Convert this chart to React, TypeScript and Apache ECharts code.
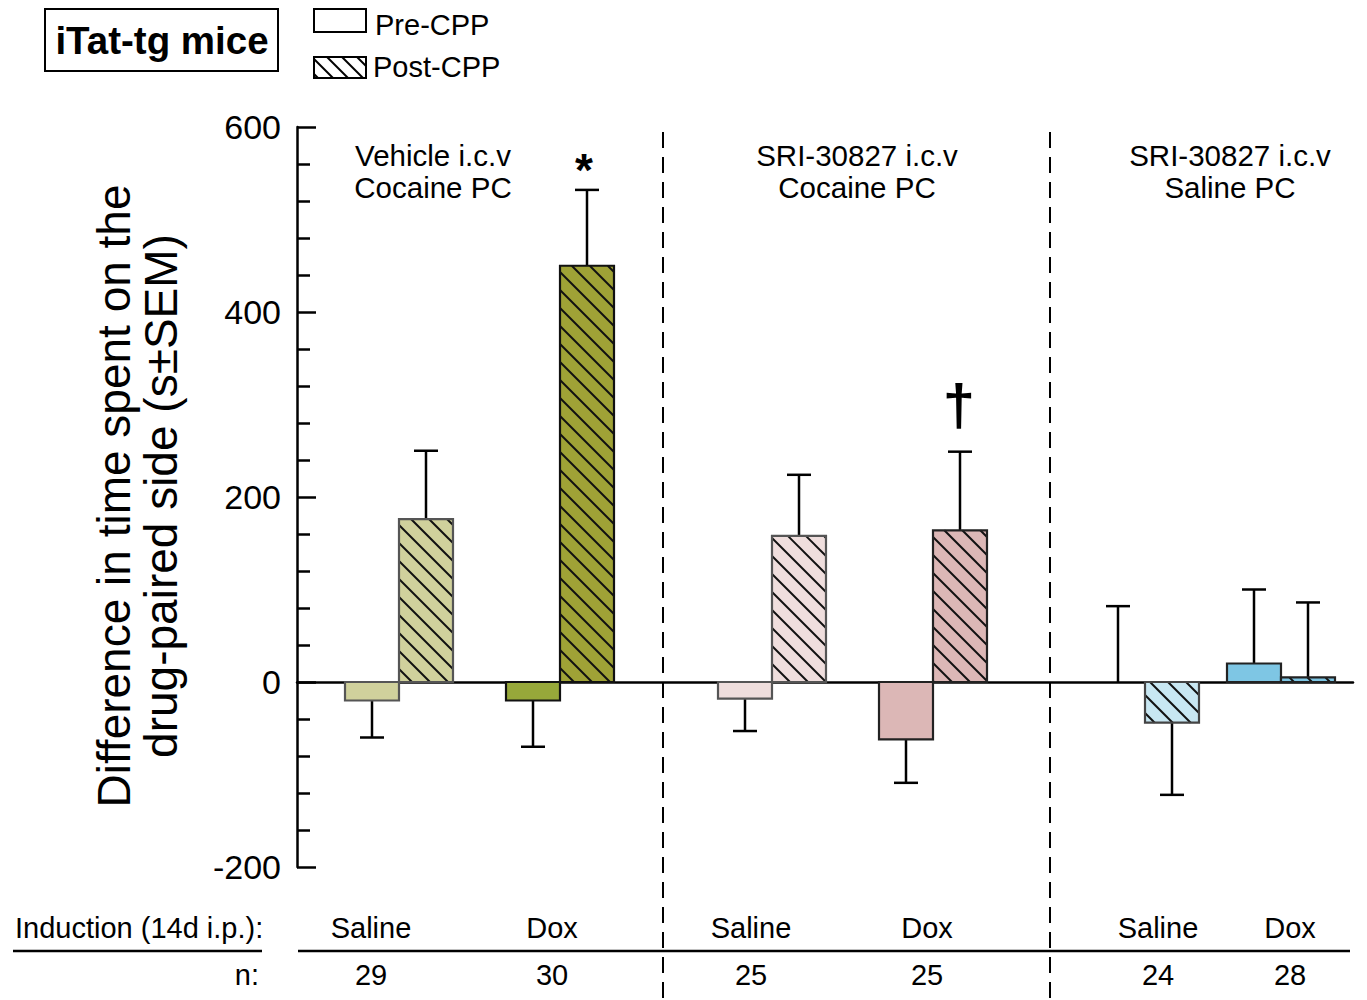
import React, { useEffect, useRef } from "react";
import * as echarts from "echarts";

// ---------- data ----------
const groupTitles = ["Vehicle i.c.v\nCocaine PC", "SRI-30827 i.c.v\nCocaine PC", "SRI-30827 i.c.v\nSaline PC"];
const induction = ["Saline", "Dox", "Saline", "Dox", "Saline", "Dox"];
const nValues = [29, 30, 25, 25, 24, 28];
const preMean = [-20, -20, -18, -62, 0, 20];
const preSem = [40, 50, 35, 47, 82, 80];
const postMean = [176, 450, 158, 164, -44, 5];
const postSem = [74, 82, 66, 85, 78, 81];
const significance = ["", "*", "", "\u2020", "", ""];
const yTicks = [-200, 0, 200, 400, 600];
const legendLabels = ["Pre-CPP", "Post-CPP"];

// ---------- layout / style ----------
const FONT = "'Liberation Sans', Arial, Helvetica, sans-serif";
const X_SPAN = 1056;
const BAR_W = 54;
const condLeft = [48, 209, 421, 582, 794, 930];
const dividerX = [663, 1050];
const groupTitleX = [433, 857, 1230];
const inductionX = [371, 552, 751, 927, 1158, 1290];
const preColors = ["#d0d19c", "#97a83a", "#efdedd", "#dcb7b6", "#c8e7f2", "#7ec6e4"];
const postColors = ["#d0d19c", "#9fa236", "#efdedd", "#dcb7b6", "#c8e7f2", "#7ec6e4"];
const borderColors = ["#555", "#111", "#555", "#222", "#444", "#222"];
const HATCH = 18;

function hatchSegments(x0: number, y0: number, x1: number, y1: number, spacing: number) {
  const segs: number[][] = [];
  const cStart = Math.floor((x0 - y1) / spacing) * spacing;
  for (let c = cStart; c <= x1 - y0; c += spacing) {
    const xa = Math.max(x0, y0 + c);
    const xb = Math.min(x1, y1 + c);
    if (xb - xa > 0.8) segs.push([xa, xa - c, xb, xb - c]);
  }
  return segs;
}

export default function App() {
  const ref = useRef<HTMLDivElement>(null);
  useEffect(() => {
    if (!ref.current) return;
    const chart = echarts.init(ref.current, undefined, { renderer: "svg" });

    const items: any[] = [];
    for (let i = 0; i < 6; i++) {
      items.push([condLeft[i], preMean[i], preSem[i], 0, i]);
      items.push([condLeft[i] + BAR_W, postMean[i], postSem[i], 1, i]);
    }

    const renderItem = (params: any, api: any) => {
      const xL = api.value(0);
      const v = api.value(1);
      const e = api.value(2);
      const post = api.value(3);
      const i = api.value(4);
      const p0 = api.coord([xL, 0]);
      const p1 = api.coord([xL + BAR_W, v]);
      const x0 = p0[0], x1 = p1[0];
      const yTop = Math.min(p0[1], p1[1]);
      const yBot = Math.max(p0[1], p1[1]);
      const children: any[] = [];
      const cx = (x0 + x1) / 2;
      const dir = v >= 0 ? 1 : -1;
      const pe = api.coord([xL, v + dir * e]);
      const pv = api.coord([xL, v]);
      // error bar
      children.push({ type: "line", shape: { x1: cx, y1: pv[1], x2: cx, y2: pe[1] }, style: { stroke: "#000", lineWidth: 2.5 } });
      children.push({ type: "line", shape: { x1: cx - 12, y1: pe[1], x2: cx + 12, y2: pe[1] }, style: { stroke: "#000", lineWidth: 2.5 } });
      if (yBot - yTop > 0.5) {
        const fill = post ? postColors[i] : preColors[i];
        children.push({ type: "rect", shape: { x: x0, y: yTop, width: x1 - x0, height: yBot - yTop }, style: { fill, stroke: "none" } });
        if (post) {
          hatchSegments(x0, yTop, x1, yBot, HATCH).forEach((s) => {
            children.push({ type: "line", shape: { x1: s[0], y1: s[1], x2: s[2], y2: s[3] }, style: { stroke: "#111", lineWidth: 2 } });
          });
        }
        children.push({ type: "rect", shape: { x: x0, y: yTop, width: x1 - x0, height: yBot - yTop }, style: { fill: "none", stroke: borderColors[i], lineWidth: 2.2 } });
      }
      if (post && significance[i]) {
        const isStar = significance[i] === "*";
        children.push({
          type: "text",
          style: {
            text: significance[i],
            x: cx - (isStar ? 3 : 1),
            y: pe[1] + (isStar ? 3 : -18),
            font: `bold ${isStar ? 46 : 58}px ${FONT}`,
            textAlign: "center",
            textVerticalAlign: "bottom",
            align: "center",
            verticalAlign: "bottom",
            fill: "#000",
          },
        });
      }
      return { type: "group", children };
    };

    const graphics: any[] = [];
    // title box
    graphics.push({ type: "rect", shape: { x: 45, y: 9, width: 233, height: 62 }, style: { fill: "#fff", stroke: "#000", lineWidth: 2 } });
    graphics.push({ type: "text", x: 162, y: 40, style: { text: "iTat-tg mice", font: `bold 38.5px ${FONT}`, textAlign: "center", textVerticalAlign: "middle", fill: "#000" } });
    // legend
    graphics.push({ type: "rect", shape: { x: 314, y: 9, width: 52, height: 23 }, style: { fill: "#fff", stroke: "#000", lineWidth: 2 } });
    hatchSegments(314, 57, 366, 78, 15).forEach((s) => {
      graphics.push({ type: "line", shape: { x1: s[0], y1: s[1], x2: s[2], y2: s[3] }, style: { stroke: "#000", lineWidth: 2 } });
    });
    graphics.push({ type: "rect", shape: { x: 314, y: 57, width: 52, height: 21 }, style: { fill: "none", stroke: "#000", lineWidth: 2 } });
    graphics.push({ type: "text", x: 375, y: 25, style: { text: legendLabels[0], font: `29px ${FONT}`, textAlign: "left", textVerticalAlign: "middle", fill: "#000" } });
    graphics.push({ type: "text", x: 373, y: 67, style: { text: legendLabels[1], font: `29px ${FONT}`, textAlign: "left", textVerticalAlign: "middle", fill: "#000" } });
    // y axis title
    graphics.push({
      type: "text", x: 137, y: 496, rotation: Math.PI / 2,
      style: { text: "Difference in time spent on the\ndrug-paired side (s\u00b1SEM)", font: `46px ${FONT}`, lineHeight: 47, textAlign: "center", textVerticalAlign: "middle", fill: "#000" },
    });
    // group titles
    groupTitles.forEach((t, g) => {
      graphics.push({ type: "text", x: groupTitleX[g], y: 171, style: { text: t, font: `29.5px ${FONT}`, lineHeight: 32, textAlign: "center", textVerticalAlign: "middle", fill: "#000" } });
    });
    // dividers
    dividerX.forEach((x) => {
      graphics.push({ type: "line", shape: { x1: x, y1: 132, x2: x, y2: 1000 }, style: { stroke: "#000", lineWidth: 2, lineDash: [16, 9] } });
    });
    // bottom table
    graphics.push({ type: "text", x: 15, y: 928, style: { text: "Induction (14d i.p.):", font: `29px ${FONT}`, textAlign: "left", textVerticalAlign: "middle", fill: "#000" } });
    graphics.push({ type: "text", x: 259, y: 975, style: { text: "n:", font: `29px ${FONT}`, textAlign: "right", textVerticalAlign: "middle", fill: "#000" } });
    graphics.push({ type: "line", shape: { x1: 13, y1: 951, x2: 262, y2: 951 }, style: { stroke: "#000", lineWidth: 2.5 } });
    graphics.push({ type: "line", shape: { x1: 298, y1: 951, x2: 1350, y2: 951 }, style: { stroke: "#000", lineWidth: 2.5 } });
    induction.forEach((t, k) => {
      graphics.push({ type: "text", x: inductionX[k], y: 928, style: { text: t, font: `29px ${FONT}`, textAlign: "center", textVerticalAlign: "middle", fill: "#000" } });
      graphics.push({ type: "text", x: inductionX[k], y: 975, style: { text: String(nValues[k]), font: `29px ${FONT}`, textAlign: "center", textVerticalAlign: "middle", fill: "#000" } });
    });

    chart.setOption({
      animation: false,
      grid: { left: 297, right: 14, top: 127, bottom: 133, containLabel: false },
      xAxis: {
        type: "value", min: 0, max: X_SPAN,
        axisLine: { show: true, onZero: true, lineStyle: { color: "#000", width: 2.5 } },
        axisTick: { show: false }, axisLabel: { show: false }, splitLine: { show: false },
      },
      yAxis: {
        type: "value", min: yTicks[0], max: yTicks[yTicks.length - 1], interval: 200,
        axisLine: { show: true, onZero: false, lineStyle: { color: "#000", width: 2.5 } },
        axisTick: { show: true, inside: true, length: 19, lineStyle: { color: "#000", width: 2.5 } },
        minorTick: { show: true, splitNumber: 5, length: 13, lineStyle: { color: "#000", width: 2.5 } },
        axisLabel: { color: "#000", fontSize: 34, fontFamily: FONT, margin: 16 },
        splitLine: { show: false },
      },
      series: [
        { type: "custom", renderItem, data: items, clip: false, encode: { x: 0, y: 1 } },
      ],
      graphic: graphics,
    });
    return () => chart.dispose();
  }, []);
  return <div ref={ref} style={{ position: "absolute", left: 0, top: 0, width: 1367, height: 1000, background: "#fff" }} />;
}
